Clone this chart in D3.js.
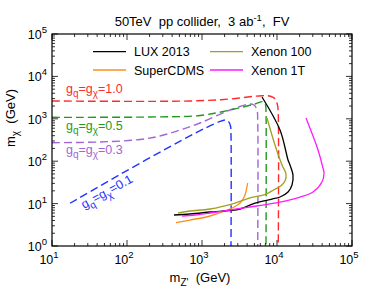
<!DOCTYPE html>
<html>
<head>
<meta charset="utf-8">
<script src="https://cdn.jsdelivr.net/npm/d3@7"></script>
<style>
  body { margin: 0; background: #fff; }
  text { font-family: "Liberation Sans", Arial, Helvetica, sans-serif; white-space: pre; }
</style>
</head>
<body>
<div id="chart"></div>
<script>
// values, [m_Z' (GeV), m_chi (GeV)]
const luxPts = [[6310,3270],[10970,544],[14030,107],[14900,81.5],[16340,47],[15850,27.5],[14030,18.8],[10970,14.3],[8580,12.8],[5090,10.3],[3211,7.46],[1279,6.34],[692,5.69],[423,5.39]];
const xenon100Pts = [[7360,1045],[9400,241],[11660,81.6],[13180,50],[12790,34],[11200,26],[9200,21.5],[7000,16.5],[4365,13.6],[2754,10.3],[1279,7.46],[692,6.69],[479,6.0]];
const xenon1TPts = [[24370,1045],[35240,184],[41040,69],[42360,52.7],[39800,32.3],[30200,18.8],[20270,14.3],[14900,12.2],[8070,9.8],[4365,8.32],[2362,7.06],[1279,6.0],[807,5.39],[541,5.1]];
const superCdmsPts = [[450,3.55],[692,4.1],[1279,5.1],[2362,7.46],[2754,8.54],[3211,10.3],[3524,12.8],[3745,15.9],[3945,23.3],[4064,30.6]];

const g10Pts = [[10,2630],[692,2630],[2362,2930],[6310,3508],[8200,3400],[9400,2980],[10160,2116],[10400,1230],[10400,1]];
const g05Pts = [[10,1084],[203,1103],[940,1197],[2362,1613],[5090,2234],[6506,2531],[7030,2116],[7130,1446],[7130,1]];
const g03Pts = [[10,273],[43.7,284],[149,325],[275,393],[509,544],[940,796],[2362,1613],[4365,2234],[4932,2116],[5412,1613],[5530,937],[5530,1]];
const g01Pts = [[17.4,10.2],[2028,937],[2256,864],[2399,676],[2436,415],[2436,1]];

const decades = [1, 2, 3, 4, 5];
const yDecades = [0, 1, 2, 3, 4, 5];

const margin = {top: 34, right: 22, bottom: 53, left: 52};
const W = 374, H = 299;
const width = W - margin.left - margin.right;
const height = H - margin.top - margin.bottom;

const svg = d3.select("#chart").append("svg")
    .attr("width", W)
    .attr("height", H);

const g = svg.append("g")
    .attr("transform", "translate(" + margin.left + "," + margin.top + ")");

const x = d3.scaleLog().domain([10, 1e5]).range([0, width]);
const y = d3.scaleLog().domain([1, 1e5]).range([height, 0]);

// clip so the vertical dashed lines end at the frame
g.append("clipPath").attr("id", "clip")
  .append("rect").attr("width", width).attr("height", height);

const line = d3.line()
    .x(d => x(d[0]))
    .y(d => y(d[1]))
    .curve(d3.curveCatmullRom.alpha(0.5));

const plot = g.append("g").attr("clip-path", "url(#clip)");

const dashed = [
  {pts: g01Pts, color: "#2233ff"},
  {pts: g03Pts, color: "#a266d6"},
  {pts: g05Pts, color: "#1f9a1f"},
  {pts: g10Pts, color: "#ff2a2a"}
];
dashed.forEach(s => {
  plot.append("path")
    .attr("d", line(s.pts))
    .attr("fill", "none")
    .attr("stroke", s.color)
    .attr("stroke-width", 1.4)
    .attr("stroke-dasharray", "8,4");
});

const solid = [
  {pts: superCdmsPts, color: "#ff8c1a"},
  {pts: xenon100Pts, color: "#a0a020"},
  {pts: luxPts, color: "#000000"},
  {pts: xenon1TPts, color: "#ff1aff"}
];
solid.forEach(s => {
  plot.append("path")
    .attr("d", line(s.pts))
    .attr("fill", "none")
    .attr("stroke", s.color)
    .attr("stroke-width", 1.3);
});

// frame
g.append("rect")
  .attr("width", width).attr("height", height)
  .attr("fill", "none").attr("stroke", "#000").attr("stroke-width", 1.2);

// ticks (inward on all four sides)
const xMinor = [], yMinor = [];
decades.slice(0, -1).forEach(e => { for (let k = 2; k <= 9; k++) xMinor.push(k * Math.pow(10, e)); });
yDecades.slice(0, -1).forEach(e => { for (let k = 2; k <= 9; k++) yMinor.push(k * Math.pow(10, e)); });
const xMajor = decades.map(e => Math.pow(10, e));
const yMajor = yDecades.map(e => Math.pow(10, e));

const ticks = g.append("g").attr("stroke", "#000").attr("stroke-width", 0.8);
function xTicks(vals, len) {
  vals.forEach(v => {
    ticks.append("line").attr("x1", x(v)).attr("x2", x(v)).attr("y1", height).attr("y2", height - len);
    ticks.append("line").attr("x1", x(v)).attr("x2", x(v)).attr("y1", 0).attr("y2", len);
  });
}
function yTicks(vals, len) {
  vals.forEach(v => {
    ticks.append("line").attr("y1", y(v)).attr("y2", y(v)).attr("x1", 0).attr("x2", len);
    ticks.append("line").attr("y1", y(v)).attr("y2", y(v)).attr("x1", width).attr("x2", width - len);
  });
}
xTicks(xMajor, 6); xTicks(xMinor, 3);
yTicks(yMajor, 6); yTicks(yMinor, 3);

// tick labels 10^n
decades.forEach(e => {
  const t = g.append("text")
    .attr("x", x(Math.pow(10, e)) - 3)
    .attr("y", height + 18)
    .attr("text-anchor", "middle")
    .attr("font-size", 12.5);
  t.append("tspan").text("10");
  t.append("tspan").attr("dy", -6).attr("font-size", 9.5).text(e);
});
yDecades.forEach(e => {
  const t = g.append("text")
    .attr("x", -5)
    .attr("y", y(Math.pow(10, e)) + 5)
    .attr("text-anchor", "end")
    .attr("font-size", 12.5);
  t.append("tspan").text("10");
  t.append("tspan").attr("dy", -6).attr("font-size", 9.5).text(e);
});

// axis titles
const xt = svg.append("text")
  .attr("x", margin.left + width / 2 - 2)
  .attr("y", 282)
  .attr("text-anchor", "middle")
  .attr("font-size", 13);
xt.append("tspan").text("m");
xt.append("tspan").attr("dy", 4).attr("font-size", 10).text("Z'");
xt.append("tspan").attr("dy", -4).text("  (GeV)");

const yt = svg.append("text")
  .attr("transform", "translate(15," + (margin.top + height / 2 - 22) + ") rotate(-90)")
  .attr("text-anchor", "middle")
  .attr("font-size", 13);
yt.append("tspan").text("m");
yt.append("tspan").attr("dy", 4).attr("font-size", 10).text("\u03c7");
yt.append("tspan").attr("dy", -4).text("  (GeV)");

// title
const title = svg.append("text")
  .attr("x", margin.left + width / 2 + 0)
  .attr("y", 26)
  .attr("text-anchor", "middle")
  .attr("font-size", 13);
title.append("tspan").text("50TeV  pp collider,  3 ab");
title.append("tspan").attr("dy", -5).attr("font-size", 9.5).text("-1");
title.append("tspan").attr("dy", 5).text(",  FV");

// legend
const legend = [
  {name: "LUX 2013", color: "#000000", lx: 93, ly: 51.7},
  {name: "SuperCDMS", color: "#ff8c1a", lx: 93, ly: 70},
  {name: "Xenon 100", color: "#a0a020", lx: 210, ly: 51.7},
  {name: "Xenon 1T", color: "#ff1aff", lx: 210, ly: 70}
];
legend.forEach(l => {
  svg.append("line")
    .attr("x1", l.lx).attr("x2", l.lx + 33)
    .attr("y1", l.ly).attr("y2", l.ly)
    .attr("stroke", l.color).attr("stroke-width", 1.3);
  svg.append("text")
    .attr("x", l.lx + 41).attr("y", l.ly + 4.5)
    .attr("font-size", 12.5)
    .text(l.name);
});

// coupling labels g_q = g_chi = ...
function couplingLabel(parent, val, color) {
  const t = parent.append("text").attr("fill", color).attr("font-size", 12.5);
  t.append("tspan").text("g");
  t.append("tspan").attr("dy", 4).attr("font-size", 10).text("q");
  t.append("tspan").attr("dy", -4).text("=g");
  t.append("tspan").attr("dy", 4).attr("font-size", 10).text("\u03c7");
  t.append("tspan").attr("dy", -4).text("=" + val);
  return t;
}
couplingLabel(svg, "1.0", "#ff2a2a").attr("x", 66).attr("y", 93);
couplingLabel(svg, "0.5", "#1f9a1f").attr("x", 66).attr("y", 130);
couplingLabel(svg, "0.3", "#a266d6").attr("x", 66).attr("y", 154);
couplingLabel(svg, "0.1", "#2233ff").attr("transform", "translate(84,209) rotate(-29)");
</script>
</body>
</html>
